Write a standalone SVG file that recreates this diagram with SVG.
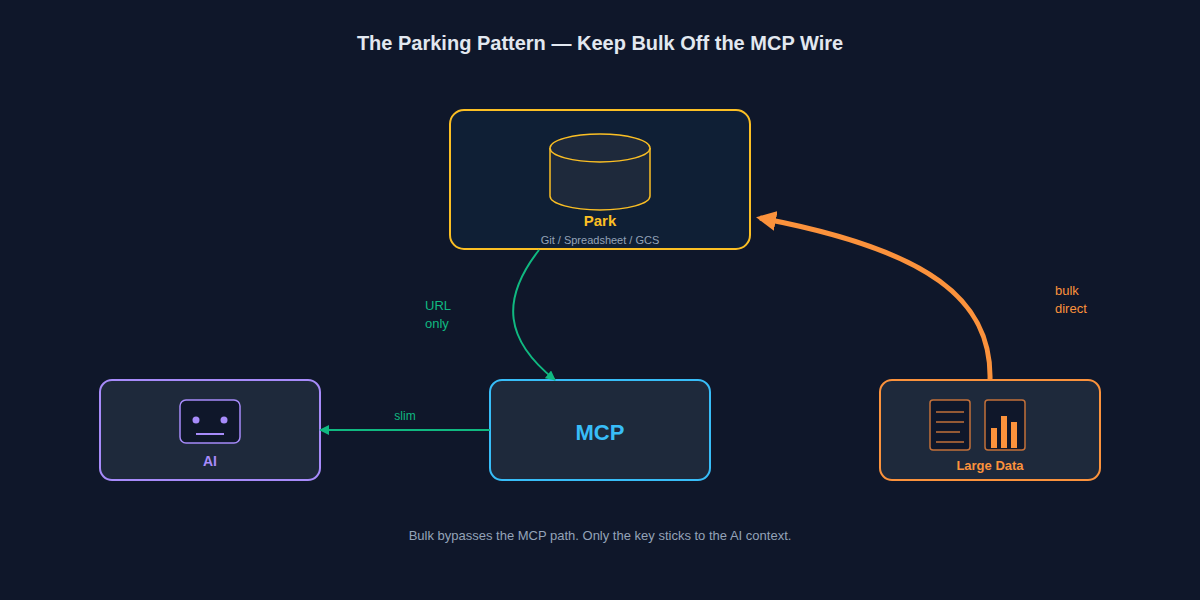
<svg xmlns="http://www.w3.org/2000/svg" width="1200" height="600" viewBox="0 0 1200 600">
<style>
text{font-family:"Liberation Sans",Arial,sans-serif}
.box{fill:#1e293b;stroke-width:2}
</style>
<defs>
<marker id="ag" viewBox="0 0 10 10" refX="9" refY="5" markerWidth="5" markerHeight="5" orient="auto"><path d="M0,0L10,5L0,10z" fill="#10b981"/></marker>
<marker id="ao" viewBox="0 0 10 10" refX="8" refY="5" markerWidth="4" markerHeight="4" orient="auto"><path d="M0,0L10,5L0,10z" fill="#fb923c"/></marker>
</defs>
<rect width="1200" height="600" fill="#0f172a"/>
<text x="600" y="50" text-anchor="middle" font-size="20" font-weight="bold" fill="#e2e8f0">The Parking Pattern — Keep Bulk Off the MCP Wire</text>
<g id="park">
<rect x="450" y="110" width="300" height="139" rx="14" fill="#0f1f35" stroke="#fbbf24" stroke-width="2"/>
<path d="M550,148 V196 A50,14 0 0 0 650,196 V148" fill="#1e293b" stroke="#fbbf24" stroke-width="1.5"/>
<ellipse cx="600" cy="148" rx="50" ry="14" fill="#1e293b" stroke="#fbbf24" stroke-width="1.5"/>
<text x="600" y="226" text-anchor="middle" font-size="15" font-weight="bold" fill="#fbbf24">Park</text>
<text x="600" y="244" text-anchor="middle" font-size="11" fill="#94a3b8">Git / Spreadsheet / GCS</text>
</g>
<g id="ai">
<rect class="box" x="100" y="380" width="220" height="100" rx="12" stroke="#a78bfa"/>
<rect x="180" y="400" width="60" height="43" rx="6" fill="#0f172a" stroke="#a78bfa" stroke-width="1.5"/>
<circle cx="196" cy="420" r="3.5" fill="#a78bfa"/><circle cx="224" cy="420" r="3.5" fill="#a78bfa"/>
<line x1="196" y1="434" x2="224" y2="434" stroke="#a78bfa" stroke-width="2"/>
<text x="210" y="466" text-anchor="middle" font-size="14" font-weight="bold" fill="#a78bfa">AI</text>
</g>
<g id="mcp">
<rect class="box" x="490" y="380" width="220" height="100" rx="12" stroke="#38bdf8"/>
<text x="600" y="440" text-anchor="middle" font-size="22" font-weight="bold" fill="#38bdf8">MCP</text>
</g>
<g id="large">
<rect class="box" x="880" y="380" width="220" height="100" rx="12" stroke="#fb923c"/>
<rect x="930" y="400" width="40" height="50" rx="3" fill="#0f172a" stroke="#c2703a" stroke-width="1.5"/>
<g stroke="#c2703a" stroke-width="1.5"><line x1="936" y1="412" x2="964" y2="412"/><line x1="936" y1="422" x2="964" y2="422"/><line x1="936" y1="432" x2="960" y2="432"/><line x1="936" y1="442" x2="964" y2="442"/></g>
<rect x="985" y="400" width="40" height="50" rx="3" fill="#0f172a" stroke="#c2703a" stroke-width="1.5"/>
<rect x="991" y="428" width="6" height="20" fill="#fb923c"/><rect x="1001" y="416" width="6" height="32" fill="#fb923c"/><rect x="1011" y="422" width="6" height="26" fill="#fb923c"/>
<text x="990" y="470" text-anchor="middle" font-size="13" font-weight="bold" fill="#fb923c">Large Data</text>
</g>
<g id="connectors">
<path d="M539,250 C500,300 505,340 555,380" fill="none" stroke="#10b981" stroke-width="2" marker-end="url(#ag)"/>
<path d="M490,430 H320" fill="none" stroke="#10b981" stroke-width="2" marker-end="url(#ag)"/>
<path d="M990,380 C992,300 930,250 760,218" fill="none" stroke="#fb923c" stroke-width="5" marker-end="url(#ao)"/>
</g>
<text x="425" y="310" font-size="13" fill="#10b981">URL</text>
<text x="425" y="328" font-size="13" fill="#10b981">only</text>
<text x="405" y="420" text-anchor="middle" font-size="12" fill="#10b981">slim</text>
<text x="1055" y="295" font-size="13" fill="#fb923c">bulk</text>
<text x="1055" y="313" font-size="13" fill="#fb923c">direct</text>
<text x="600" y="540" text-anchor="middle" font-size="13" fill="#94a3b8">Bulk bypasses the MCP path. Only the key sticks to the AI context.</text>
</svg>
